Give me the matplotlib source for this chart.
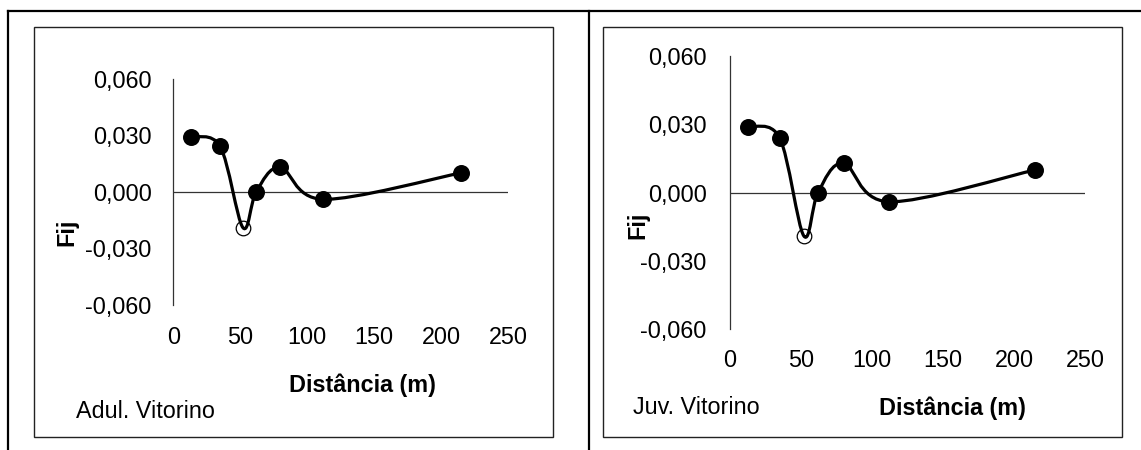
# -*- coding: utf-8 -*-
import numpy as np
import matplotlib
matplotlib.use('Agg')
import matplotlib.pyplot as plt
from matplotlib.path import Path
from matplotlib.patches import PathPatch, Rectangle
from matplotlib.lines import Line2D

plt.rcParams['font.family'] = ['Liberation Sans', 'DejaVu Sans']

# data (same spatial classes for both panels)
dist_adul = [13, 35, 52, 62, 80, 112, 215]
fij_adul = [0.029, 0.024, -0.019, 0.000, 0.013, -0.004, 0.010]
dist_juv = [13, 35, 52, 62, 80, 112, 215]
fij_juv = [0.029, 0.024, -0.019, 0.000, 0.013, -0.004, 0.010]
open_idx = 2            # point drawn as an open circle

x_ticks = [0, 50, 100, 150, 200, 250]
y_ticks = [-0.06, -0.03, 0.0, 0.03, 0.06]
y_ticklabels = ['-0,060', '-0,030', '0,000', '0,030', '0,060']
x_title = 'Distância (m)'
y_title = 'Fij'
panel_names = ['Adul. Vitorino', 'Juv. Vitorino']

W, H = 1141, 450
FS = 16.8


def fx(px):
    return px / W


def fy(py):
    return 1 - py / H


def smooth_path(xs, ys):
    # excel-like smoothed line: catmull-rom segments as cubic beziers
    p = np.column_stack([xs, ys]).astype(float)
    pts = np.vstack([p[0], p, p[-1]])
    verts = [p[0]]
    codes = [Path.MOVETO]
    for i in range(1, len(pts) - 2):
        c1 = pts[i] + (pts[i + 1] - pts[i - 1]) / 6
        c2 = pts[i + 1] - (pts[i + 2] - pts[i]) / 6
        verts += [c1, c2, pts[i + 1]]
        codes += [Path.CURVE4] * 3
    return Path(verts, codes)


fig = plt.figure(figsize=(W / 100, H / 100), dpi=100)

# table frame around the two charts
for seg in [((8, 1141), (11, 11)), ((8, 8), (11, 450)), ((589, 589), (11, 450))]:
    fig.add_artist(Line2D([fx(v) for v in seg[0]], [fy(v) for v in seg[1]],
                          color='black', lw=1.6))

# chart boxes
for x0, x1 in [(34, 553), (603, 1122)]:
    fig.add_artist(Rectangle((fx(x0), fy(437)), fx(x1 - x0), (437 - 27) / H,
                             fill=False, edgecolor='#222222', lw=1.0))

# plot areas: (left, right, top, bottom) in pixels
areas = [(173.3, 508, 78.5, 305), (730, 1085, 56, 329.3)]
series = [(dist_adul, fij_adul), (dist_juv, fij_juv)]
ypads = [15.6, 16.8]
xpads = [15.2, 14.0]
ylab_pos = [(67, 232), (638, 225)]
xlab_pos = [(362, 385), (952, 408)]
name_pos = [(76, 411), (633, 408)]

for k in range(2):
    l, r, t, b = areas[k]
    ax = fig.add_axes([fx(l), fy(b), fx(r - l), (b - t) / H])
    xs, ys = series[k]

    ax.set_xlim(0, 250)
    ax.set_ylim(-0.06, 0.06)
    ax.axhline(0, color='#333333', lw=0.9, zorder=1)

    ax.add_patch(PathPatch(smooth_path(xs, ys), fill=False, edgecolor='black',
                           lw=2.3, capstyle='round', joinstyle='round', zorder=3))
    filled = [i for i in range(len(xs)) if i != open_idx]
    ax.plot([xs[i] for i in filled], [ys[i] for i in filled], 'o', color='black',
            ms=11.2, zorder=4, clip_on=False)
    ax.plot([xs[open_idx]], [ys[open_idx]], 'o', mfc='white', mec='black',
            mew=0.9, ms=10.5, zorder=2)

    for s in ['top', 'right', 'bottom']:
        ax.spines[s].set_visible(False)
    ax.spines['left'].set_color('#333333')
    ax.spines['left'].set_linewidth(0.9)
    ax.set_facecolor('none')

    ax.set_xticks(x_ticks)
    ax.set_xticklabels([str(v) for v in x_ticks])
    ax.set_yticks(y_ticks)
    ax.set_yticklabels(y_ticklabels)
    ax.tick_params(axis='y', length=0, pad=ypads[k], labelsize=FS)
    ax.tick_params(axis='x', length=0, pad=xpads[k], labelsize=FS)

    fig.text(fx(ylab_pos[k][0]), fy(ylab_pos[k][1]), y_title, rotation=90,
             fontsize=FS, fontweight='bold', ha='center', va='center')
    fig.text(fx(xlab_pos[k][0]), fy(xlab_pos[k][1]), x_title,
             fontsize=FS, fontweight='bold', ha='center', va='center')
    fig.text(fx(name_pos[k][0]), fy(name_pos[k][1]), panel_names[k],
             fontsize=FS, ha='left', va='center')

plt.savefig('out.png', dpi=100)
